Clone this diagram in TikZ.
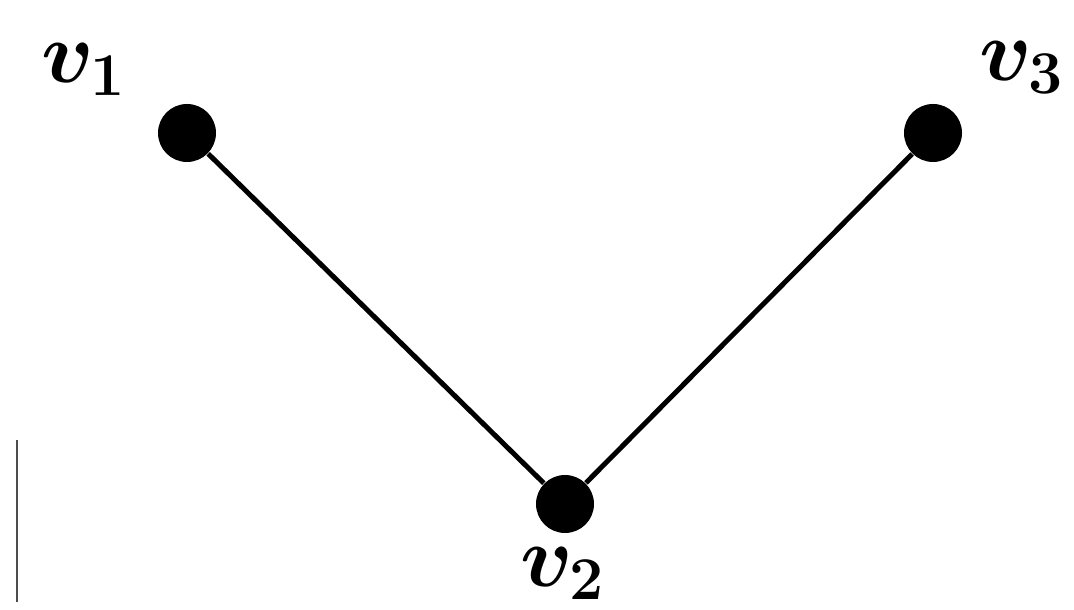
\documentclass[tikz,border=0pt]{standalone}
\usepackage{amsmath}
\usepackage{tikz}
\usetikzlibrary{positioning}
\tikzset{
  vtx/.style={circle,fill=black,inner sep=0pt,minimum size=5.8mm},
  lbl/.style={inner sep=0pt,font=\fontsize{24}{28}\selectfont\boldmath},
  ln/.style={draw=black,line width=0.5mm},
}

\begin{document}
\begin{tikzpicture}
  \useasboundingbox (0,0) rectangle (10.74,6.10);
  \node[vtx] (v1) at (1.87,4.77) {};
  \node[vtx] (v2) at (5.65,1.06) {};
  \node[vtx] (v3) at (9.33,4.77) {};
  \node[lbl] (l1) at (0.84,5.40) {$v_1$};
  \node[lbl] (l2) at (5.63,0.36) {$v_2$};
  \node[lbl] (l3) at (10.22,5.42) {$v_3$};
  \draw[ln] (v1)--(v2); \draw[ln] (v2)--(v3);
  % scan mark on the left
  \coordinate (m1) at (0.17,1.70);
  \coordinate (m2) at (0.17,0.08);
  \draw[black!70,line width=0.15mm] (m1)--(m2);
\end{tikzpicture}
\end{document}
